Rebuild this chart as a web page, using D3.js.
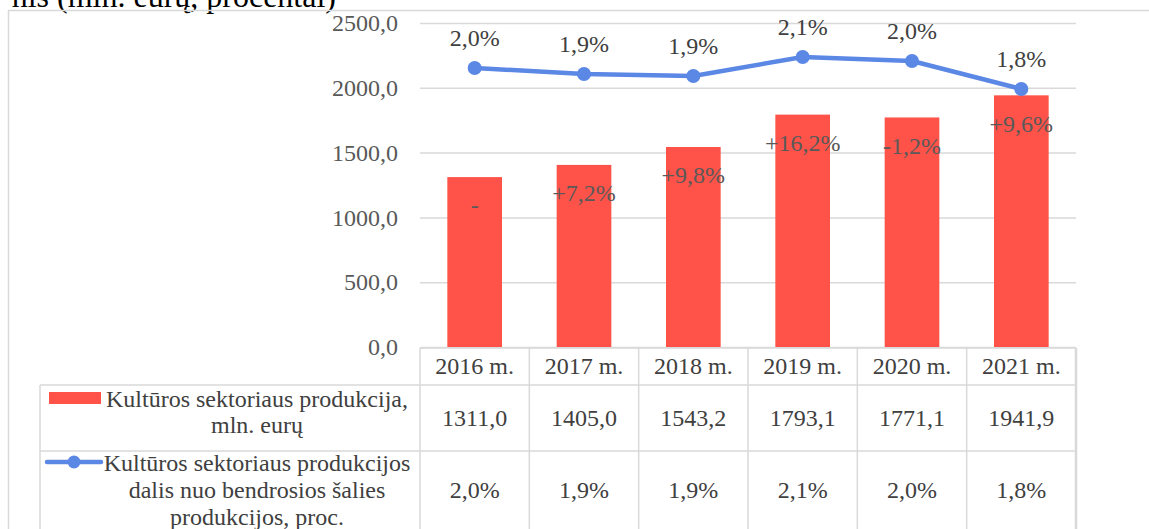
<!DOCTYPE html>
<html>
<head>
<meta charset="utf-8">
<script src="https://cdn.jsdelivr.net/npm/d3@7"></script>
<style>
  body { margin: 0; background: #fff; }
  text { font-family: 'Liberation Serif', 'Times New Roman', serif; }
</style>
</head>
<body>
<div id="chart"></div>
<script>
const years = ['2016 m.', '2017 m.', '2018 m.', '2019 m.', '2020 m.', '2021 m.'];
const production = [1311.0, 1405.0, 1543.2, 1793.1, 1771.1, 1941.9];
const changeLabels = ['-', '+7,2%', '+9,8%', '+16,2%', '-1,2%', '+9,6%'];
const share = [1.97, 1.91, 1.89, 2.08, 2.04, 1.76];
const shareLabels = ['2,0%', '1,9%', '1,9%', '2,1%', '2,0%', '1,8%'];
const yTicks = [0, 500, 1000, 1500, 2000, 2500];
const legendBar = ['Kultūros sektoriaus produkcija,', 'mln. eurų'];
const legendLine = ['Kultūros sektoriaus produkcijos', 'dalis nuo bendrosios šalies', 'produkcijos, proc.'];

const width = 1149, height = 529;
const plot = { left: 420, right: 1076, top: 23, bottom: 347 };
const grid = '#d9d9d9';
const barColor = '#ff5349';
const lineColor = '#5b87e5';
const textColor = '#404040';
const comma = (f) => (v) => f(v).replace('.', ',');

const svg = d3.select('#chart')
  .append('svg')
  .attr('width', width)
  .attr('height', height);

// caption line of the document, cut by the top edge
svg.append('text')
  .attr('x', 336)
  .attr('y', 7)
  .style('text-anchor', 'end')
  .style('font-size', '32px')
  .style('fill', '#000')
  .text('nis (mln. eurų, procentai)');

// chart frame
svg.append('rect')
  .attr('x', 8.5).attr('y', 10.5)
  .attr('width', width + 10).attr('height', height)
  .style('fill', 'none')
  .style('stroke', grid)
  .style('stroke-width', 1.5);

const xScale = d3.scaleBand()
  .domain(years)
  .range([plot.left, plot.right])
  .paddingInner(0.5)
  .paddingOuter(0.25);

const yScale = d3.scaleLinear()
  .domain([0, 2500])
  .range([plot.bottom, plot.top]);

// hidden secondary axis for the share line
const y2Scale = d3.scaleLinear()
  .domain([-0.82, 2.42])
  .range([plot.bottom, plot.top]);

// gridlines + left axis labels
const yAxis = svg.append('g')
  .attr('transform', `translate(${plot.left},0)`)
  .call(d3.axisLeft(yScale)
    .tickValues(yTicks)
    .tickSize(-(plot.right - plot.left))
    .tickPadding(22)
    .tickFormat(comma(d3.format('.1f'))));
yAxis.select('.domain').remove();
yAxis.selectAll('line').style('stroke', grid).style('stroke-width', 1.5);
yAxis.selectAll('text')
  .style('font-size', '24px')
  .style('fill', '#595959')
  .style('font-family', "'Liberation Serif', 'Times New Roman', serif");

// bars
svg.selectAll('.bar')
  .data(production)
  .enter()
  .append('rect')
  .attr('class', 'bar')
  .attr('x', (d, i) => xScale(years[i]))
  .attr('y', (d) => yScale(d))
  .attr('width', xScale.bandwidth())
  .attr('height', (d) => plot.bottom - yScale(d))
  .style('fill', barColor);

svg.selectAll('.bar-label')
  .data(changeLabels)
  .enter()
  .append('text')
  .attr('class', 'bar-label')
  .attr('x', (d, i) => xScale(years[i]) + xScale.bandwidth() / 2)
  .attr('y', (d, i) => yScale(production[i]) + 28)
  .attr('dy', '0.35em')
  .style('text-anchor', 'middle')
  .style('font-size', '24px')
  .style('fill', '#595959')
  .text((d) => d);

// share line
const cx = (i) => xScale(years[i]) + xScale.bandwidth() / 2;
const line = d3.line()
  .x((d, i) => cx(i))
  .y((d) => y2Scale(d));

svg.append('path')
  .datum(share)
  .attr('d', line)
  .style('fill', 'none')
  .style('stroke', lineColor)
  .style('stroke-width', 4.5)
  .style('stroke-linejoin', 'round');

svg.selectAll('.dot')
  .data(share)
  .enter()
  .append('circle')
  .attr('class', 'dot')
  .attr('cx', (d, i) => cx(i))
  .attr('cy', (d) => y2Scale(d))
  .attr('r', 7)
  .style('fill', lineColor);

svg.selectAll('.dot-label')
  .data(shareLabels)
  .enter()
  .append('text')
  .attr('class', 'dot-label')
  .attr('x', (d, i) => cx(i))
  .attr('y', (d, i) => y2Scale(share[i]) - 30)
  .attr('dy', '0.35em')
  .style('text-anchor', 'middle')
  .style('font-size', '24px')
  .style('fill', textColor)
  .text((d) => d);

// data table
const rows = { head: 348, r1: 385, r2: 451, end: height + 5 };
const tableLeft = 40;
const tbl = svg.append('g').style('stroke', grid).style('stroke-width', 1.5);

tbl.append('line').attr('x1', plot.left).attr('x2', plot.right).attr('y1', rows.head).attr('y2', rows.head);
tbl.append('line').attr('x1', plot.left).attr('x2', plot.right).attr('y1', rows.r1).attr('y2', rows.r1);
tbl.append('line').attr('x1', tableLeft).attr('x2', plot.left).attr('y1', rows.r1).attr('y2', rows.r1);
tbl.append('line').attr('x1', tableLeft).attr('x2', plot.right).attr('y1', rows.r2).attr('y2', rows.r2);
tbl.append('line').attr('x1', tableLeft).attr('x2', tableLeft).attr('y1', rows.r1).attr('y2', rows.end);

const step = xScale.step();
const colEdges = years.map((d, i) => plot.left + i * step).concat([plot.right]);
tbl.selectAll('.col')
  .data(colEdges)
  .enter()
  .append('line')
  .attr('x1', (d) => d).attr('x2', (d) => d)
  .attr('y1', rows.head).attr('y2', rows.end)
  .style('stroke-width', (d, i) => (i === colEdges.length - 1 ? 2.5 : 1.5));

const cellText = (data, y) => svg.append('g')
  .selectAll('text')
  .data(data)
  .enter()
  .append('text')
  .attr('x', (d, i) => cx(i))
  .attr('y', y)
  .attr('dy', '0.35em')
  .style('text-anchor', 'middle')
  .style('font-size', '24px')
  .style('fill', textColor)
  .text((d) => d);

cellText(years, 366);
cellText(production.map(comma(d3.format('.1f'))), 418);
cellText(shareLabels, 490);

// legend labels
const legendX = 257;
svg.append('rect')
  .attr('x', 49).attr('y', 392)
  .attr('width', 52).attr('height', 12)
  .style('fill', barColor);

svg.append('line')
  .attr('x1', 47).attr('x2', 101)
  .attr('y1', 462).attr('y2', 462)
  .style('stroke', lineColor)
  .style('stroke-width', 4.5)
  .style('stroke-linecap', 'round');
svg.append('circle')
  .attr('cx', 74).attr('cy', 462).attr('r', 6.5)
  .style('fill', lineColor);

svg.append('g')
  .selectAll('text')
  .data(legendBar)
  .enter()
  .append('text')
  .attr('x', legendX)
  .attr('y', (d, i) => 399 + i * 26)
  .attr('dy', '0.35em')
  .style('text-anchor', 'middle')
  .style('font-size', '24px')
  .style('fill', textColor)
  .text((d) => d);

svg.append('g')
  .selectAll('text')
  .data(legendLine)
  .enter()
  .append('text')
  .attr('x', legendX)
  .attr('y', (d, i) => 463 + i * 27)
  .attr('dy', '0.35em')
  .style('text-anchor', 'middle')
  .style('font-size', '24px')
  .style('fill', textColor)
  .text((d) => d);
</script>
</body>
</html>
